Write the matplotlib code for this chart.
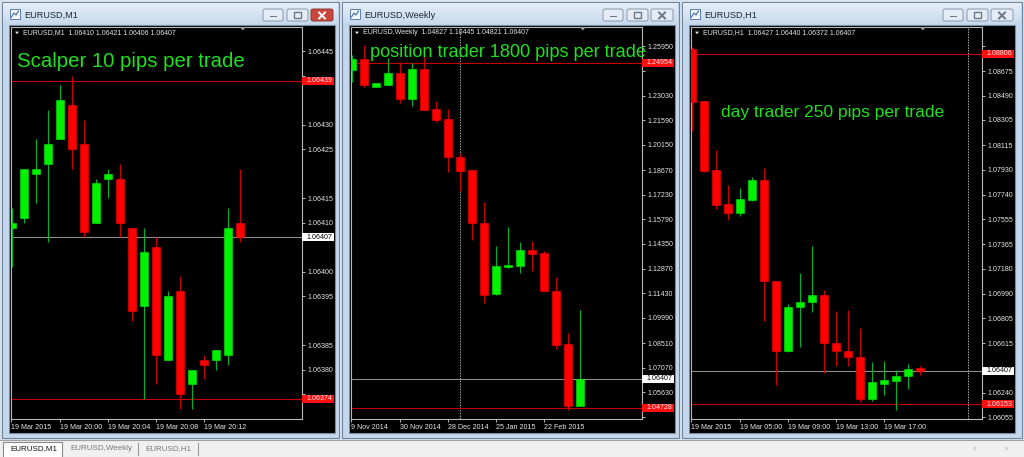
import matplotlib
matplotlib.use('Agg')
import matplotlib.pyplot as plt
from matplotlib.patches import Rectangle, FancyBboxPatch, Polygon
from matplotlib.colors import LinearSegmentedColormap
import matplotlib.transforms as mtransforms
import numpy as np

# ---------------- data ----------------
m1_open  = [1.06409, 1.06411, 1.06420, 1.06422, 1.06427, 1.06434, 1.06426, 1.06410, 1.06419, 1.06419,
            1.06409, 1.06393, 1.06405, 1.06382, 1.06396, 1.06377, 1.06382, 1.06382, 1.06383, 1.06410]
m1_high  = [1.06413, 1.06421, 1.06427, 1.06433, 1.06438, 1.06440, 1.06431, 1.06419, 1.06421, 1.06422,
            1.06409, 1.06409, 1.06407, 1.06396, 1.06399, 1.06380, 1.06383, 1.06384, 1.06413, 1.06421]
m1_low   = [1.06401, 1.06410, 1.06414, 1.06406, 1.06427, 1.06421, 1.06407, 1.06410, 1.06415, 1.06407,
            1.06390, 1.06374, 1.06377, 1.06382, 1.06372, 1.06372, 1.06378, 1.06380, 1.06381, 1.06406]
m1_close = [1.06410, 1.06421, 1.06421, 1.06426, 1.06435, 1.06425, 1.06408, 1.06418, 1.06420, 1.06410,
            1.06392, 1.06404, 1.06383, 1.06395, 1.06375, 1.06380, 1.06381, 1.06384, 1.06409, 1.06407]

w1_open  = [1.2454, 1.2517, 1.2356, 1.2366, 1.2435, 1.2284, 1.2458, 1.2223, 1.2164, 1.1945,
            1.1867, 1.1558, 1.1137, 1.1296, 1.1304, 1.1398, 1.1382, 1.1159, 1.0844, 1.04827]
w1_high  = [1.2542, 1.2601, 1.2378, 1.2523, 1.2503, 1.2493, 1.2562, 1.2274, 1.2223, 1.1965,
            1.1870, 1.1677, 1.1421, 1.1534, 1.1443, 1.1452, 1.1394, 1.1241, 1.0909, 1.10445]
w1_low   = [1.2386, 1.2356, 1.2354, 1.2364, 1.2262, 1.2243, 1.2217, 1.2151, 1.1857, 1.1746,
            1.1456, 1.1088, 1.1135, 1.1294, 1.1264, 1.1274, 1.1155, 1.0815, 1.0458, 1.04821]
w1_close = [1.2517, 1.2366, 1.2376, 1.2435, 1.2284, 1.2458, 1.2219, 1.2161, 1.1942, 1.1863,
            1.1558, 1.1133, 1.1304, 1.1310, 1.1398, 1.1374, 1.1157, 1.0840, 1.04827, 1.06407]

h1_open  = [1.0884, 1.0845, 1.0793, 1.0767, 1.0760, 1.0770, 1.0785, 1.0709, 1.0656, 1.0689,
            1.0693, 1.0698, 1.0662, 1.0656, 1.0651, 1.0619, 1.0631, 1.0633, 1.0637, 1.06427]
h1_high  = [1.0886, 1.0845, 1.0808, 1.0781, 1.0779, 1.0787, 1.0794, 1.0709, 1.0691, 1.0715,
            1.0735, 1.0702, 1.0686, 1.0687, 1.0673, 1.0647, 1.0648, 1.0641, 1.0646, 1.06440]
h1_low   = [1.0822, 1.0791, 1.0763, 1.0755, 1.0758, 1.0769, 1.0678, 1.0630, 1.0655, 1.0659,
            1.0685, 1.0639, 1.0644, 1.0644, 1.0617, 1.0618, 1.0622, 1.0611, 1.0627, 1.06372]
h1_close = [1.0844, 1.0792, 1.0766, 1.0760, 1.0771, 1.0785, 1.0709, 1.0656, 1.0689, 1.0693,
            1.0698, 1.0662, 1.0656, 1.0651, 1.0619, 1.0632, 1.0634, 1.0637, 1.0642, 1.06407]

m1_yticks = [1.06445, 1.06440, 1.06430, 1.06425, 1.06415, 1.06410, 1.06400, 1.06395,
             1.06385, 1.06380, 1.06375]
w1_yticks = [1.25950, 1.24470, 1.23030, 1.21590, 1.20150, 1.18670, 1.17230, 1.15790,
             1.14350, 1.12870, 1.11430, 1.09990, 1.08510, 1.07070, 1.05630, 1.04190]
h1_yticks = [1.08865, 1.08675, 1.08490, 1.08305, 1.08115, 1.07930, 1.07740, 1.07555,
             1.07365, 1.07180, 1.06990, 1.06805, 1.06615, 1.06425, 1.06240, 1.06055]

m1_xlabels = ['19 Mar 2015', '19 Mar 20:00', '19 Mar 20:04', '19 Mar 20:08', '19 Mar 20:12']
w1_xlabels = ['9 Nov 2014', '30 Nov 2014', '28 Dec 2014', '25 Jan 2015', '22 Feb 2015']
h1_xlabels = ['19 Mar 2015', '19 Mar 05:00', '19 Mar 09:00', '19 Mar 13:00', '19 Mar 17:00']

m1_red_lines = [1.06439, 1.06374]
w1_red_lines = [1.24954, 1.04728]
h1_red_lines = [1.08806, 1.06153]
current_price = 1.06407

titles = ['EURUSD,M1', 'EURUSD,Weekly', 'EURUSD,H1']
headers = ['EURUSD,M1  1.06410 1.06421 1.06406 1.06407',
           'EURUSD,Weekly  1.04827 1.10445 1.04821 1.06407',
           'EURUSD,H1  1.06427 1.06440 1.06372 1.06407']
captions = ['Scalper 10 pips per trade', 'position trader 1800 pips per trade',
            'day trader 250 pips per trade']
tab_labels = ['EURUSD,M1', 'EURUSD,Weekly', 'EURUSD,H1']

# ---------------- figure ----------------
W, H = 1024, 457
fig = plt.figure(figsize=(W / 100, H / 100), dpi=100)
fig.patch.set_facecolor('#d9e3ee')
FONT = 'Liberation Sans'


def px_axes(z):
    a = fig.add_axes([0, 0, 1, 1], zorder=z)
    a.set_xlim(0, W)
    a.set_ylim(H, 0)
    a.axis('off')
    a.patch.set_alpha(0)
    return a


bg = px_axes(0)

win_x0 = [2, 342, 682]
win_x1 = [339, 679, 1022]
FT, FB = 26.7, 419.0  # chart frame top / bottom in px

grad = np.linspace(0, 1, 50).reshape(-1, 1)
cm = LinearSegmentedColormap.from_list('t', ['#e6eef8', '#c8d9ed'])
for k, (x0, x1) in enumerate(zip(win_x0, win_x1)):
    bg.add_patch(Rectangle((x0, 2), x1 - x0, 436, facecolor='#c5d7ec', edgecolor='#6f849d', lw=0.8))
    bg.imshow(grad, cmap=cm, extent=(x0 + 1, x1 - 1, 24, 3), aspect='auto', zorder=1)
    bg.add_patch(Rectangle((x0 + 8, 9), 10, 10, facecolor='#f4f8fd', edgecolor='#5b7fae', lw=0.7, zorder=2))
    bg.plot([x0 + 9.5, x0 + 12, x0 + 14, x0 + 16.5], [17, 13, 15, 11], color='#3a6fb3', lw=0.8, zorder=3)
    bg.text(x0 + 22, 15, titles[k], fontsize=6.6, family=FONT, color='#1e2a3a', va='center', ha='left', zorder=3)
    bxs = [(x0 + 261, 20), (x0 + 285, 21), (x0 + 309, 22)]
    for j, (bx, bw) in enumerate(bxs):
        is_close_active = (k == 0 and j == 2)
        fc = '#c9463d' if is_close_active else '#e4ebf4'
        ec = '#8a3a33' if is_close_active else '#8898ad'
        bg.add_patch(FancyBboxPatch((bx, 9), bw, 12, boxstyle='round,pad=0,rounding_size=2',
                                    facecolor=fc, edgecolor=ec, lw=0.7, zorder=2))
        cx = bx + bw / 2
        gc = '#ffffff' if is_close_active else '#6a778a'
        if j == 0:
            bg.add_patch(Rectangle((cx - 3.5, 15.5), 7, 1.8, facecolor=gc, edgecolor='none', zorder=3))
        elif j == 1:
            bg.add_patch(Rectangle((cx - 3.5, 12), 7, 6, facecolor='none', edgecolor=gc, lw=1.0, zorder=3))
        else:
            bg.plot([cx - 3, cx + 3], [12.5, 18.5], color=gc, lw=1.4, zorder=3)
            bg.plot([cx - 3, cx + 3], [18.5, 12.5], color=gc, lw=1.4, zorder=3)
    bg.add_patch(Rectangle((x0 + 7, 25), 326, 408, facecolor='black', edgecolor='#7b8ca3', lw=0.8, zorder=2))

# tab bar
bg.add_patch(Rectangle((0, 440), W, 17, facecolor='#f0f0f0', edgecolor='none', zorder=4))
bg.plot([0, W], [440, 440], color='#9aa3ad', lw=0.8, zorder=5)
bg.add_patch(Rectangle((3, 441.5), 59, 16, facecolor='white', edgecolor='#8a8a8a', lw=0.8, zorder=5))
bg.text(10, 449, tab_labels[0], fontsize=5.8, family=FONT, color='#111111', va='center', zorder=6)
bg.text(70, 449, tab_labels[1], fontsize=5.8, family=FONT, color='#7a7a7a', va='center', zorder=6)
bg.text(145, 449, tab_labels[2], fontsize=5.8, family=FONT, color='#7a7a7a', va='center', zorder=6)
for xs in (138, 198):
    bg.plot([xs, xs], [443, 455], color='#9a9a9a', lw=0.8, zorder=6)
bg.text(972, 449, '‹', fontsize=6, color='#999999', va='center', zorder=6)
bg.text(1004, 449, '›', fontsize=6, color='#999999', va='center', zorder=6)

# ---------------- charts ----------------
BULL, BEAR = '#00f000', '#ff0000'
BULL_W, BEAR_W = '#00b030', '#c80000'

panels = [
    dict(o=m1_open, h=m1_high, l=m1_low, c=m1_close, yt=m1_yticks, xl=m1_xlabels,
         red=m1_red_lines, ylim=(1.063699, 1.064500), sep=None, x0=2),
    dict(o=w1_open, h=w1_high, l=w1_low, c=w1_close, yt=w1_yticks, xl=w1_xlabels,
         red=w1_red_lines, ylim=(1.04055, 1.27083), sep=9, x0=342),
    dict(o=h1_open, h=h1_high, l=h1_low, c=h1_close, yt=h1_yticks, xl=h1_xlabels,
         red=h1_red_lines, ylim=(1.06042, 1.09011), sep=23, x0=682),
]

for k, p in enumerate(panels):
    fl = p['x0'] + 9
    fr = p['x0'] + 300.3
    ax = fig.add_axes([fl / W, 1 - FB / H, (fr - fl) / W, (FB - FT) / H], zorder=2)
    ax.set_facecolor('black')
    first_x = fl + 0.7 if k < 2 else fl + 1.3
    xl0 = (fl - first_x) / 12.0
    xl1 = (fr - first_x) / 12.0
    ax.set_xlim(xl0, xl1)
    ax.set_ylim(*p['ylim'])
    for s in ax.spines.values():
        s.set_color('#b8b8b8')
        s.set_linewidth(0.8)

    idx = np.arange(len(p['o']))
    o, hh, ll, cc = map(np.asarray, (p['o'], p['h'], p['l'], p['c']))
    yr = p['ylim'][1] - p['ylim'][0]
    ppu = (FB - FT) / yr
    minh = 1.2 / ppu
    for i in idx:
        up = cc[i] >= o[i]
        ax.vlines(i, ll[i], hh[i], color=BULL_W if up else BEAR_W, lw=0.8, zorder=3)
        b = min(o[i], cc[i])
        hgt = max(abs(cc[i] - o[i]), minh)
        col = BULL if up else BEAR
        ax.add_patch(Rectangle((i - 0.33, b), 0.66, hgt, facecolor=col, edgecolor=col, lw=0.4, zorder=4))

    for r in p['red']:
        ax.axhline(r, color='#c40000', lw=0.8, zorder=2)
    ax.axhline(current_price, color='#8c8c8c', lw=0.8, zorder=2)
    if p['sep'] is not None:
        ax.axvline(p['sep'], color='#b4b4b4', lw=0.8, ls=(0, (1.2, 1.2)), zorder=1)

    # price boxes geometry (px-based)
    bh = 8.0 / ppu
    box_vals = list(p['red']) + [current_price]

    # y axis on right; tick labels hidden under a price box are left blank
    ax.yaxis.tick_right()
    ax.set_yticks(p['yt'])
    ylabels = []
    for v in p['yt']:
        hidden = any(abs(v - bv) < 1.3 * bh for bv in box_vals)
        ylabels.append('' if hidden else f'{v:.5f}')
    ax.set_yticklabels(ylabels)
    ax.tick_params(axis='y', colors='#b8b8b8', labelcolor='#e6e6e6', length=2.2, width=0.7,
                   pad=1.2, labelsize=5.1)
    ax.set_xticks([xl0, 4, 8, 12, 16])
    ax.set_xticklabels(p['xl'])
    ax.tick_params(axis='x', colors='#b8b8b8', labelcolor='#e6e6e6', length=2.2, width=0.7,
                   pad=1.5, labelsize=5.1)
    for t in ax.get_xticklabels() + ax.get_yticklabels():
        t.set_fontfamily(FONT)
    for t in ax.get_xticklabels():
        t.set_ha('left')

    tr = mtransforms.blended_transform_factory(ax.transAxes, ax.transData)
    bw = 31.5 / (fr - fl)
    boxes = [(r, '#ff1010', '#ffe8e8') for r in p['red']] + [(current_price, '#ffffff', '#000000')]
    for val, fc, tc in boxes:
        ax.add_patch(Rectangle((1.0, val - bh / 2), bw, bh, transform=tr, facecolor=fc,
                               edgecolor='none', clip_on=False, zorder=20))
        ax.text(1.0 + 4.3 / (fr - fl), val, f'{val:.5f}', transform=tr, fontsize=5.1, family=FONT,
                color=tc, va='center', ha='left', clip_on=False, zorder=21)

# ---------------- overlay texts ----------------
ov = px_axes(5)
cap_pos = [(17, 66.7, 14.7), (370, 57.3, 13.1), (721, 117.3, 12.5)]
for k, x0 in enumerate(win_x0):
    fr = x0 + 300.3
    ov.add_patch(Polygon([[x0 + 13, 31.6], [x0 + 17, 31.6], [x0 + 15, 34.2]], closed=True,
                         facecolor='#e6e6e6', edgecolor='none'))
    ov.text(x0 + 20.7, 33, headers[k], fontsize=5.0, family=FONT, color='#e6e6e6', va='center', ha='left')
    tx = fr - 59.5
    ov.add_patch(Polygon([[tx - 3, 27], [tx + 3, 27], [tx, 30.5]], closed=True,
                         facecolor='#a0a0a0', edgecolor='none'))
    cx, cy, fs = cap_pos[k]
    ov.text(cx, cy, captions[k], fontsize=fs, family=FONT, color='#1ee01e', va='baseline', ha='left')

fig.savefig('out.png', dpi=100, facecolor=fig.get_facecolor())
